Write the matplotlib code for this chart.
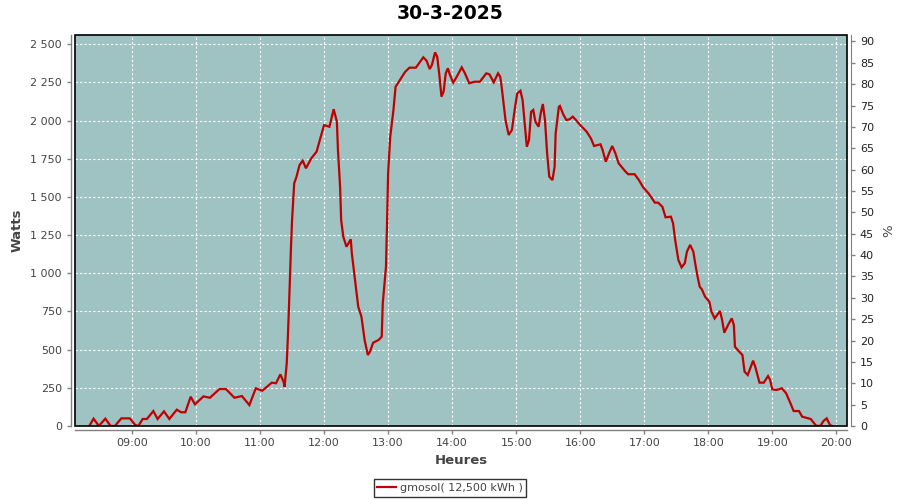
import matplotlib
matplotlib.use("Agg")
import matplotlib.pyplot as plt
from matplotlib.ticker import FixedLocator, FuncFormatter, MultipleLocator
from matplotlib.patches import Rectangle

plt.rcParams['font.family'] = ['DejaVu Sans']

# données
titre = "30-3-2025"
legende = "gmosol( 12,500 kWh )"
heures_ticks = ["09:00", "10:00", "11:00", "12:00", "13:00", "14:00",
                "15:00", "16:00", "17:00", "18:00", "19:00", "20:00"]

times = ["08:20", "08:24", "08:29", "08:35", "08:40", "08:44", "08:50", "08:58", "09:03", "09:06",
         "09:10", "09:14", "09:20", "09:24", "09:30", "09:35", "09:42", "09:46", "09:50", "09:55",
         "09:59", "10:07", "10:13", "10:22", "10:28", "10:36", "10:43", "10:50", "10:56", "11:02",
         "11:11", "11:15", "11:19", "11:22", "11:23", "11:25", "11:26", "11:27", "11:28", "11:29",
         "11:30", "11:31", "11:32", "11:34", "11:37", "11:40", "11:43", "11:48", "11:53", "11:56",
         "12:00", "12:05", "12:09", "12:12", "12:13", "12:15", "12:16", "12:18", "12:21", "12:25",
         "12:26", "12:29", "12:32", "12:35", "12:38", "12:41", "12:43", "12:46", "12:51", "12:54",
         "12:55", "12:58", "12:59", "13:00", "13:02", "13:05", "13:07", "13:11", "13:16", "13:20",
         "13:26", "13:30", "13:33", "13:36", "13:39", "13:41", "13:44", "13:46", "13:48", "13:50",
         "13:52", "13:54", "13:56", "13:58", "14:01", "14:04", "14:09", "14:12", "14:16", "14:21",
         "14:26", "14:32", "14:35", "14:39", "14:43", "14:45", "14:46", "14:48", "14:50", "14:53",
         "14:56", "14:59", "15:01", "15:04", "15:06", "15:08", "15:10", "15:12", "15:14", "15:16",
         "15:18", "15:21", "15:23", "15:25", "15:27", "15:29", "15:31", "15:34", "15:36", "15:37",
         "15:40", "15:41", "15:44", "15:47", "15:50", "15:53", "15:56", "16:00", "16:06", "16:10",
         "16:13", "16:19", "16:21", "16:24", "16:27", "16:30", "16:33", "16:36", "16:42", "16:45",
         "16:51", "16:55", "16:59", "17:04", "17:10", "17:13", "17:17", "17:20", "17:25", "17:27",
         "17:29", "17:32", "17:35", "17:38", "17:40", "17:43", "17:46", "17:48", "17:50", "17:52",
         "17:54", "17:57", "18:01", "18:03", "18:06", "18:11", "18:13", "18:15", "18:19", "18:22",
         "18:24", "18:25", "18:29", "18:32", "18:34", "18:37", "18:42", "18:44", "18:48", "18:52",
         "18:56", "18:58", "19:00", "19:04", "19:09", "19:13", "19:17", "19:20", "19:25", "19:28",
         "19:36", "19:41", "19:45", "19:48", "19:51", "19:54", "19:56"]

watts = [0, 48, 0, 48, 0, 0, 50, 50, 7, 0,
         46, 46, 98, 46, 96, 46, 107, 90, 90, 192,
         142, 194, 185, 242, 242, 185, 196, 137, 247, 231,
         284, 280, 338, 290, 257, 411, 570, 760, 978, 1174,
         1349, 1469, 1590, 1629, 1709, 1738, 1688, 1753, 1797, 1873,
         1971, 1960, 2075, 1993, 1808, 1567, 1349, 1240, 1174, 1223,
         1131, 956, 781, 716, 563, 465, 487, 546, 563, 585,
         804, 1043, 1328, 1655, 1895, 2070, 2222, 2266, 2320, 2347,
         2347, 2386, 2415, 2393, 2338, 2364, 2447, 2419, 2299, 2157,
         2190, 2310, 2343, 2299, 2249, 2284, 2349, 2310, 2245, 2255,
         2255, 2310, 2303, 2251, 2310, 2288, 2245, 2124, 2004, 1906,
         1939, 2091, 2179, 2196, 2135, 1982, 1829, 1873, 2058, 2070,
         1993, 1960, 2048, 2109, 2004, 1786, 1633, 1611, 1698, 1917,
         2091, 2096, 2043, 2004, 2009, 2026, 2004, 1971, 1928, 1884,
         1834, 1845, 1808, 1731, 1786, 1834, 1786, 1721, 1670, 1649,
         1649, 1611, 1563, 1524, 1463, 1463, 1436, 1367, 1371, 1328,
         1218, 1087, 1039, 1066, 1142, 1186, 1142, 1055, 978, 912,
         895, 847, 814, 749, 705, 753, 694, 611, 668, 705,
         661, 519, 487, 465, 356, 334, 428, 389, 284, 284,
         327, 301, 240, 236, 247, 214, 149, 98, 98, 61,
         46, 2, 0, 33, 50, 7, 0]


def to_h(s):
    h, m = s.split(":")
    return int(h) + int(m) / 60.0


x = [to_h(t) for t in times]
xt = [to_h(t) for t in heures_ticks]

fond = '#9fc3c2'
rouge = '#c00000'
gris = '#808080'
texte = '#444444'

fig = plt.figure(figsize=(9, 5), dpi=100)
ax = fig.add_axes([75 / 900, 1 - 426 / 500, (846.7 - 75) / 900, (426 - 35) / 500])
ax.set_facecolor(fond)

ax.plot(x, watts, color=rouge, lw=1.6, solid_joinstyle='miter', zorder=3)

ax.set_xlim(8.11, 20.162)
ax.set_ylim(0, 2561)
ax.xaxis.set_major_locator(FixedLocator(xt))
ax.set_xticklabels(heures_ticks)
ax.yaxis.set_major_locator(MultipleLocator(250))
ax.yaxis.set_major_formatter(FuncFormatter(lambda v, p: f"{int(v):,}".replace(",", " ")))
ax.grid(True, color='white', lw=0.8, ls=(0, (2, 2)))
ax.set_axisbelow(True)

# axes décalés, en gris
for side in ['left', 'bottom']:
    ax.spines[side].set_position(('outward', 3))
    ax.spines[side].set_color(gris)
    ax.spines[side].set_linewidth(1)
ax.spines['top'].set_visible(False)
ax.spines['right'].set_visible(False)
ax.tick_params(axis='both', colors=gris, labelcolor=texte, labelsize=8, length=3, width=1)
ax.tick_params(axis='x', pad=3)

ax.set_xlabel("Heures", fontsize=9.5, fontweight='bold', color=texte, labelpad=4)
ax.set_ylabel("Watts", fontsize=9.5, fontweight='bold', color=texte, labelpad=5)

# cadre noir de la zone de tracé
ax.add_patch(Rectangle((0, 0), 1, 1, transform=ax.transAxes, fill=False,
                       edgecolor='black', lw=1.2, clip_on=False, zorder=5))

ax2 = ax.twinx()
ax2.set_ylim(0, 91.5)
ax2.yaxis.set_major_locator(MultipleLocator(5))
for side in ['left', 'top', 'bottom']:
    ax2.spines[side].set_visible(False)
ax2.spines['right'].set_position(('outward', 3))
ax2.spines['right'].set_color(gris)
ax2.tick_params(axis='y', colors=gris, labelcolor='#222222', labelsize=8, length=3, width=1)
ax2.set_ylabel("%", fontsize=9.5, color=texte, labelpad=6)

fig.suptitle(titre, fontsize=13.5, fontweight='bold', y=0.992)

leg = fig.legend([ax.lines[0]], [legende], loc='center', bbox_to_anchor=(0.5, 0.0235),
                 fontsize=8, frameon=True, fancybox=False, handlelength=1.7,
                 handletextpad=0.3, borderpad=0.35, borderaxespad=0)
leg.get_frame().set_edgecolor('black')
leg.get_frame().set_linewidth(1)
for t in leg.get_texts():
    t.set_color(texte)

fig.savefig("out.png", dpi=100)
